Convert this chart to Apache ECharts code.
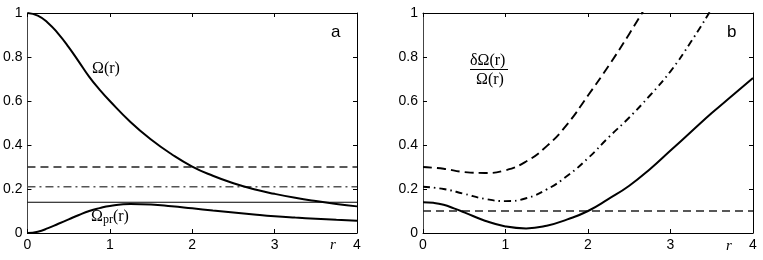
<!DOCTYPE html>
<html>
<head>
<meta charset="utf-8">
<script src="https://cdn.jsdelivr.net/npm/echarts@6/dist/echarts.min.js"></script>
<style>
html,body{margin:0;padding:0;background:#fff;}
#c{width:763px;height:260px;}
</style>
</head>
<body>
<div id="c"></div>
<script>
// ---- data ----
const rA = [0,0.125,0.25,0.375,0.5,0.625,0.75,0.875,1,1.25,1.5,1.75,2,2.25,2.5,2.75,3,3.25,3.5,3.75,4];
const omega   = [1,0.988,0.955,0.905,0.845,0.778,0.71,0.652,0.6,0.505,0.425,0.358,0.302,0.26,0.226,0.199,0.178,0.16,0.145,0.132,0.121];
const omegaPr = [0,0.006,0.022,0.042,0.062,0.082,0.1,0.113,0.123,0.132,0.13,0.122,0.112,0.102,0.093,0.084,0.076,0.07,0.065,0.06,0.056];
const levelsA = [0.3, 0.21, 0.14];          // dashed, dash-dot, solid thin
const rSolidB = [0,0.125,0.25,0.375,0.5,0.75,1,1.25,1.5,1.75,2,2.25,2.5,2.75,3,3.25,3.5,3.75,4];
const solidB  = [0.14,0.137,0.128,0.112,0.094,0.056,0.03,0.021,0.033,0.062,0.1,0.155,0.215,0.29,0.375,0.46,0.545,0.625,0.705];
const rDashDotB = [0,0.25,0.5,0.75,1,1.25,1.5,1.75,2,2.25,2.5,2.75,3,3.25,3.5];
const dashDotB  = [0.21,0.2,0.178,0.155,0.145,0.158,0.198,0.26,0.34,0.435,0.525,0.625,0.735,0.87,1.02];
const rDashedB = [0,0.25,0.5,0.75,1,1.25,1.5,1.75,2,2.25,2.5,2.75];
const dashedB  = [0.30,0.292,0.277,0.273,0.285,0.325,0.395,0.495,0.625,0.76,0.905,1.06];
const levelB = 0.1;
const xTicks = [0,1,2,3,4];
const yTicks = [0,0.2,0.4,0.6,0.8,1];

const zip = (xs, ys) => xs.map((x, i) => [x, ys[i]]);
const hline = v => [[xTicks[0], v], [xTicks[xTicks.length-1], v]];

const chart = echarts.init(document.getElementById('c'), null, {renderer: 'canvas'});
const labelFont = {fontFamily: 'Liberation Sans, Arial, sans-serif', fontSize: 14, color: '#000'};

function xAxis(grid, pos) {
  return {
    type: 'value', gridIndex: grid, position: pos, min: 0, max: 4, interval: 1,
    axisLine: {show: true, onZero: false, lineStyle: {color: '#000', width: 1}},
    axisTick: {show: true, inside: true, length: 4, lineStyle: {color: '#000'}},
    axisLabel: pos === 'bottom' ? Object.assign({show: true, margin: 5}, labelFont) : {show: false},
    splitLine: {show: false}
  };
}
function yAxis(grid, pos) {
  return {
    type: 'value', gridIndex: grid, position: pos, min: 0, max: 1, interval: 0.2,
    axisLine: {show: true, onZero: false, lineStyle: {color: pos === 'left' ? '#444' : '#000', width: 1}},
    axisTick: {show: true, inside: true, length: 4, lineStyle: {color: '#000'}},
    axisLabel: pos === 'left' ? Object.assign({show: true, margin: 5}, labelFont) : {show: false},
    splitLine: {show: false}
  };
}

const thick = {color: '#000', width: 2};
const option = {
  animation: false,
  grid: [
    {left: 26, right: 406, top: 13, bottom: 27},
    {left: 423, right: 10, top: 13, bottom: 27}
  ],
  xAxis: [xAxis(0, 'bottom'), xAxis(0, 'top'), xAxis(1, 'bottom'), xAxis(1, 'top')],
  yAxis: [yAxis(0, 'left'), yAxis(0, 'right'), yAxis(1, 'left'), yAxis(1, 'right')],
  series: [
    {type: 'line', xAxisIndex: 0, yAxisIndex: 0, data: hline(levelsA[0]), showSymbol: false,
     lineStyle: {color: '#222', width: 1.3, type: [8, 5]}},
    {type: 'line', xAxisIndex: 0, yAxisIndex: 0, data: hline(levelsA[1]), showSymbol: false,
     lineStyle: {color: '#555', width: 1.4, type: [8, 4, 2, 4]}},
    {type: 'line', xAxisIndex: 0, yAxisIndex: 0, data: hline(levelsA[2]), showSymbol: false,
     lineStyle: {color: '#000', width: 1.1}},
    {type: 'line', xAxisIndex: 0, yAxisIndex: 0, data: zip(rA, omega), showSymbol: false, smooth: 0.5,
     lineStyle: thick},
    {type: 'line', xAxisIndex: 0, yAxisIndex: 0, data: zip(rA, omegaPr), showSymbol: false, smooth: 0.5,
     lineStyle: thick},

    {type: 'line', xAxisIndex: 2, yAxisIndex: 2, data: hline(levelB), showSymbol: false,
     lineStyle: {color: '#222', width: 1.3, type: [8, 5]}},
    {type: 'line', xAxisIndex: 2, yAxisIndex: 2, data: zip(rSolidB, solidB), showSymbol: false, smooth: 0.5,
     lineStyle: thick},
    {type: 'line', xAxisIndex: 2, yAxisIndex: 2, data: zip(rDashDotB, dashDotB), showSymbol: false, smooth: 0.5,
     lineStyle: {color: '#000', width: 1.9, type: [7, 4, 1.5, 4]}},
    {type: 'line', xAxisIndex: 2, yAxisIndex: 2, data: zip(rDashedB, dashedB), showSymbol: false, smooth: 0.5,
     lineStyle: {color: '#000', width: 1.9, type: [9, 5]}}
  ],
  graphic: [
    {type: 'text', left: 330, top: 238, style: {text: 'r', font: 'italic 15px "Liberation Serif", serif', fill: '#000'}},
    {type: 'text', left: 726, top: 239, style: {text: 'r', font: 'italic 15px "Liberation Serif", serif', fill: '#000'}},
    {type: 'text', left: 331, top: 24, style: {text: 'a', font: '17px "Liberation Sans", Arial, sans-serif', fill: '#000'}},
    {type: 'text', left: 727, top: 24, style: {text: 'b', font: '17px "Liberation Sans", Arial, sans-serif', fill: '#000'}},
    {type: 'text', left: 92, top: 61, style: {text: 'Ω(r)', font: '16px "Liberation Serif", serif', fill: '#000'}},
    {type: 'text', left: 91, top: 209, style: {
      text: 'Ω{s|pr}(r)', font: '16px "Liberation Serif", serif', fill: '#000',
      rich: {s: {fontSize: 12, fontFamily: 'Liberation Serif', verticalAlign: 'bottom', padding: [6, 0, 0, 0]}}
    }},
    {type: 'text', left: 470, top: 53, style: {text: 'δΩ(r)', font: '16px "Liberation Serif", serif', fill: '#000'}},
    {type: 'line', shape: {x1: 470, y1: 69.5, x2: 508, y2: 69.5}, style: {stroke: '#000', lineWidth: 1}},
    {type: 'text', left: 476, top: 72, style: {text: 'Ω(r)', font: '16px "Liberation Serif", serif', fill: '#000'}}
  ]
};
chart.setOption(option);
</script>
</body>
</html>
